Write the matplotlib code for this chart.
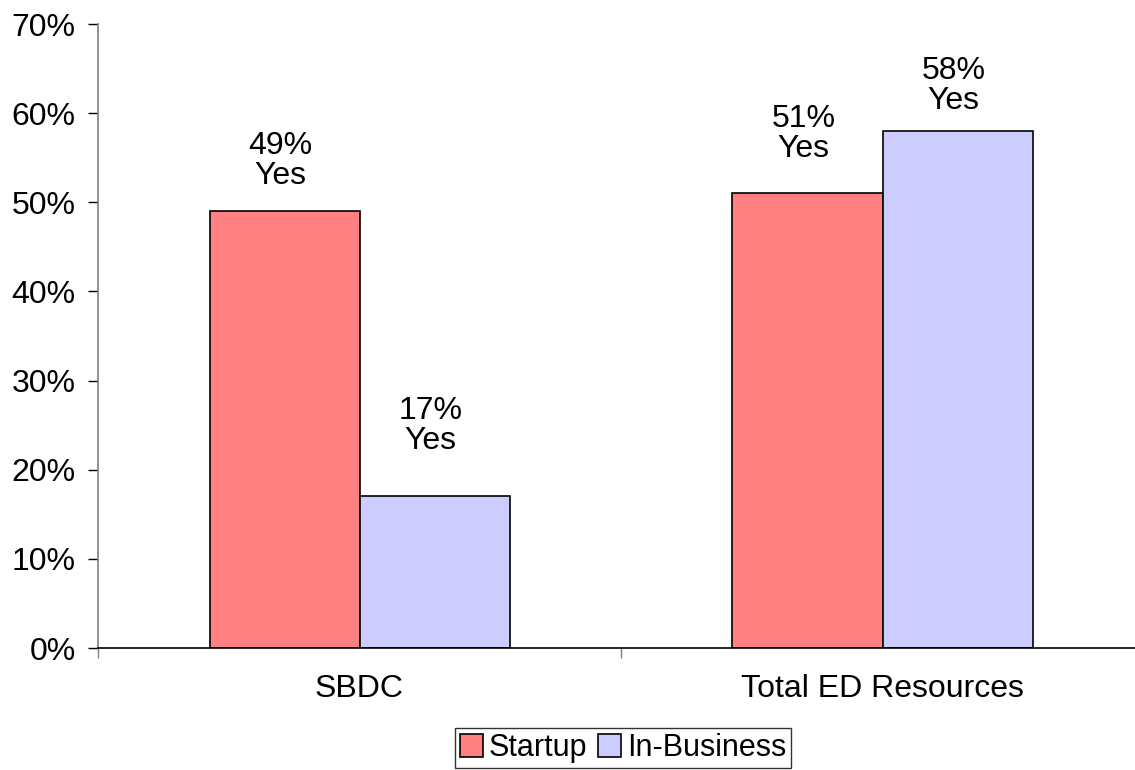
import matplotlib
matplotlib.use("Agg")
import matplotlib.pyplot as plt
import numpy as np

categories = ['SBDC', 'Total ED Resources']
series_names = ['Startup', 'In-Business']
startup = [49, 51]
in_business = [17, 58]
yticks = [0, 10, 20, 30, 40, 50, 60, 70]

# gap between each bar top and its label, in pixels (startup, in-business)
label_gap = [[20, 40], [29, 15]]

colors = ['#FF8080', '#CCCCFF']
fs = 23

plt.rcParams['font.family'] = ['Liberation Sans', 'DejaVu Sans']

W, H = 1135, 770
fig = plt.figure(figsize=(W / 100, H / 100), dpi=100)
ax = fig.add_axes([98 / W, (H - 648) / H, 1046 / W, 624 / H])

x = np.arange(len(categories)) + 0.5
bw = 150 / 523.0
series = [startup, in_business]
bars = []
for i, vals in enumerate(series):
    pos = x + (i - 0.5) * bw
    b = ax.bar(pos, vals, width=bw, color=colors[i], edgecolor='black',
               linewidth=1.2, label=series_names[i], zorder=3)
    bars.append(b)
    for j, (p, v) in enumerate(zip(pos, vals)):
        ax.annotate('{}%\nYes'.format(v), (p, v),
                    xytext=(-3, label_gap[j][i] * 0.72),
                    textcoords='offset points', ha='center', va='bottom',
                    fontsize=fs, linespacing=1.0)

ax.set_xlim(0, len(categories))
ax.set_ylim(0, 70)
ax.set_yticks(yticks)
ax.set_yticklabels(['{}%'.format(t) for t in yticks], fontsize=fs)
ax.set_xticks(np.arange(len(categories) + 1))
ax.set_xticklabels([])
ax.set_xticks(x, minor=True)
ax.set_xticklabels(categories, minor=True, fontsize=fs)
ax.tick_params(axis='x', which='major', direction='out', length=7, width=1,
               color='#808080')
ax.tick_params(axis='x', which='minor', length=0, pad=19)
ax.tick_params(axis='y', direction='out', length=7, width=1, pad=9,
               color='black')

for s in ['top', 'right']:
    ax.spines[s].set_visible(False)
ax.spines['left'].set_color('#808080')
ax.spines['left'].set_linewidth(1.2)
ax.spines['bottom'].set_color('black')
ax.spines['bottom'].set_linewidth(1.2)
ax.spines['bottom'].set_zorder(4)

leg = fig.legend(handles=bars, labels=series_names, loc='center',
                 bbox_to_anchor=(623 / W, 1 - 748 / H), ncol=2, fontsize=22,
                 frameon=True, fancybox=False, edgecolor='black',
                 handlelength=0.75, handleheight=0.75, handletextpad=0.2,
                 columnspacing=0.35, borderpad=0.15, borderaxespad=0)
leg.get_frame().set_linewidth(1.0)

fig.savefig('out.png', dpi=100)
